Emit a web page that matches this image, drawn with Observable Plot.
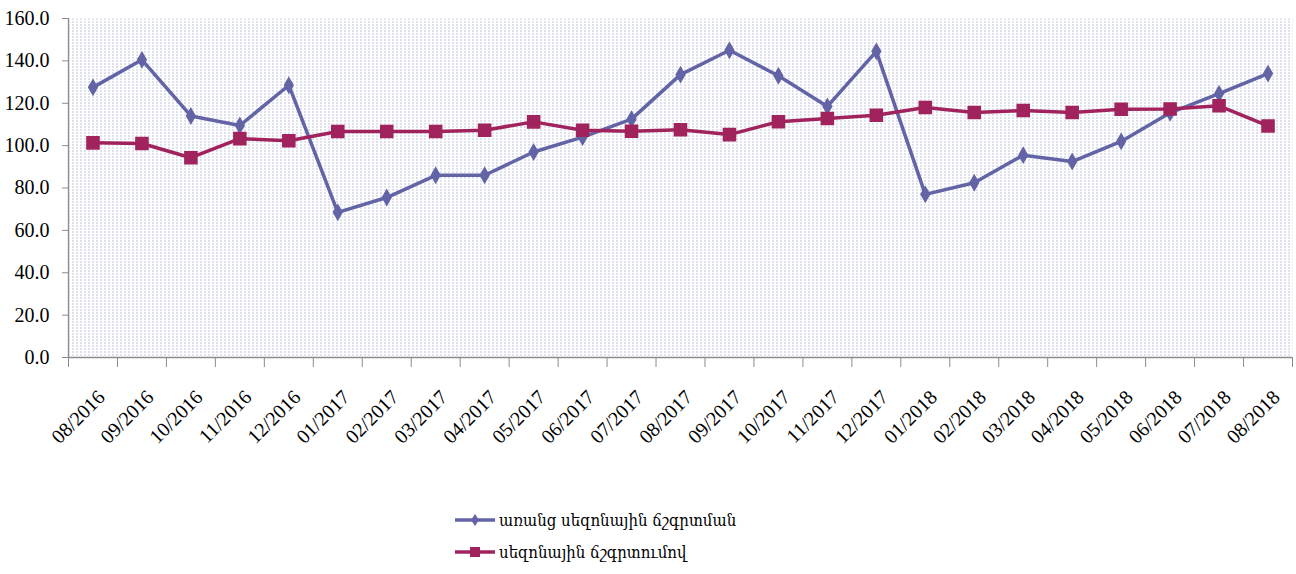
<!DOCTYPE html>
<html><head><meta charset="utf-8">
<script src="https://cdn.jsdelivr.net/npm/d3@7"></script>
<script src="https://cdn.jsdelivr.net/npm/@observablehq/plot@0.6"></script>
<style>
body{margin:0;background:#fff;}
#chart svg{display:block;}
#legend{position:relative;width:1296px;height:94px;font-family:"DejaVu Serif","Noto Sans",serif;font-size:17px;color:#000;}
.row{position:absolute;left:455px;display:flex;align-items:center;height:24px;white-space:nowrap;}
.row svg{display:block;margin-right:4px;}
.row span{display:inline-block;transform:scaleX(0.88);transform-origin:left center;}
</style></head><body>
<div id="chart"></div>
<div id="legend"></div>
<script>
const months = ["08/2016","09/2016","10/2016","11/2016","12/2016","01/2017","02/2017","03/2017","04/2017","05/2017","06/2017","07/2017","08/2017","09/2017","10/2017","11/2017","12/2017","01/2018","02/2018","03/2018","04/2018","05/2018","06/2018","07/2018","08/2018"];
const withoutAdj = [127.5,140.5,114,109.5,128.5,68.5,75.5,86,86,97,104,112.5,133.5,145,133,118.5,144.5,77,82.5,95.5,92.5,102,115.5,124.5,134];
const seasAdj = [101.3,101,94.3,103.3,102.3,106.7,106.7,106.7,107.3,111.2,107.3,106.8,107.5,105.2,111.3,112.8,114.3,118,115.6,116.6,115.6,117.2,117.3,118.8,109.3];
const seriesNames = ["առանց սեզոնային ճշգրտման","սեզոնային ճշգրտումով"];
const colors = ["#6264a6","#a1235d"];
const yTicks = [0,20,40,60,80,100,120,140,160];

const boundaries = d3.range(-0.5, months.length, 1);

const plot = Plot.plot({
  width: 1296, height: 480,
  marginLeft: 68, marginRight: 4, marginTop: 18, marginBottom: 123,
  style: {fontFamily: "'Liberation Serif', 'Times New Roman', serif", background: "#fff", color: "#000"},
  x: {domain: [-0.5, months.length - 0.5], axis: null},
  y: {domain: [0, 160], axis: null},
  marks: [
    Plot.frame({fill: "url(#dots)", stroke: "none"}),
    Plot.ruleY([0], {stroke: "#8c8c8c", strokeWidth: 1.3}),
    Plot.ruleX([-0.5], {stroke: "#8c8c8c", strokeWidth: 1.3}),
    Plot.axisY(yTicks, {tickSize: 6, tickPadding: 13, fontSize: 20, stroke: "#8c8c8c", tickFormat: d => d.toFixed(1), fill: "#000"}),
    Plot.axisX(boundaries, {tickSize: 10, tickFormat: () => "", stroke: "#8c8c8c"}),
    Plot.text(months, {x: (d,i) => i, frameAnchor: "bottom", dy: 41, dx: 13, rotate: -45, textAnchor: "end", lineAnchor: "bottom", fontSize: 20, fill: "#000"}),
    Plot.line(withoutAdj, {x: (d,i) => i, y: d => d, stroke: colors[0], strokeWidth: 3.5}),
    Plot.dot(withoutAdj, {x: (d,i) => i, y: d => d, symbol: "diamond", r: 4.5, fill: colors[0], stroke: colors[0]}),
    Plot.line(seasAdj, {x: (d,i) => i, y: d => d, stroke: colors[1], strokeWidth: 3.5}),
    Plot.dot(seasAdj, {x: (d,i) => i, y: d => d, symbol: "square", r: 6.8, fill: colors[1], stroke: colors[1]})
  ]
});

const ns = "http://www.w3.org/2000/svg";
const defs = document.createElementNS(ns, "defs");
defs.innerHTML = '<pattern id="dots" width="4" height="3" patternUnits="userSpaceOnUse"><rect width="4" height="3" fill="#ffffff"/><rect width="1" height="1" fill="#7f88bb"/></pattern>';
plot.insertBefore(defs, plot.firstChild);
document.getElementById("chart").appendChild(plot);

const legend = document.getElementById("legend");
seriesNames.forEach((name, k) => {
  const row = document.createElement("div");
  row.className = "row";
  row.style.top = (28 + k * 32) + "px";
  const marker = k === 0
    ? '<path d="M20,6 L24,12 L20,18 L16,12 Z" fill="' + colors[0] + '"/>'
    : '<rect x="15" y="7" width="10" height="10" fill="' + colors[1] + '"/>';
  row.innerHTML = '<svg width="40" height="24"><line x1="0" y1="12" x2="40" y2="12" stroke="' + colors[k] + '" stroke-width="3.5"/>' + marker + '</svg><span>' + name + '</span>';
  legend.appendChild(row);
});
</script>
</body></html>
